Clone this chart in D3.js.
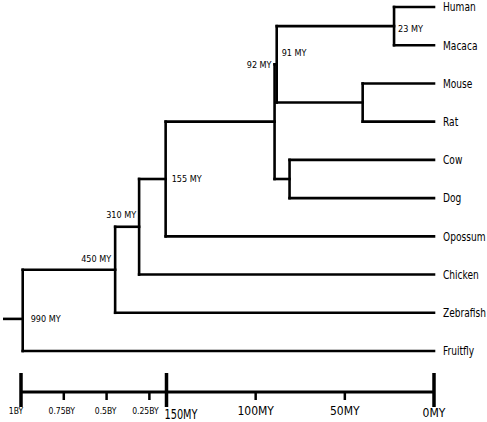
<!DOCTYPE html>
<html><head><meta charset="utf-8">
<script src="https://cdn.jsdelivr.net/npm/d3@7"></script>
<style>
body{margin:0;background:#fff}
svg{display:block}
text{font-family:"DejaVu Sans Condensed","DejaVu Sans",sans-serif;fill:#000}
</style>
</head><body>
<svg id="chart" width="487" height="422"></svg>
<script>
// ---- data ----
const leafNames = ["Human","Macaca","Mouse","Rat","Cow","Dog","Opossum","Chicken","Zebrafish","Fruitfly"];
const nodeIds     = ["n990","n450","n310","n155","n92","n91","n23","n40","n81",
                     "Human","Macaca","Mouse","Rat","Cow","Dog","Opossum","Chicken","Zebrafish","Fruitfly"];
const nodeParents = ["","n990","n450","n310","n155","n92","n91","n91","n92",
                     "n23","n23","n40","n40","n81","n81","n155","n310","n450","n990"];
// divergence time in million years, as placed on the time axis
const nodeAges    = [990,450,310,155,89.4,88.2,22.4,40,81, 0,0,0,0,0,0,0,0,0,0];
const nodeLabels  = ["990 MY","450 MY","310 MY","155 MY","92 MY","91 MY","23 MY","","",
                     "","","","","","","","","",""];
const rootStubAge = 1105;
const rootStubRow = 8.16;
const tickValues  = [1000,750,500,250,150,100,50,0];
const tickLabels  = ["1BY","0.75BY","0.5BY","0.25BY","150MY","100MY","50MY","0MY"];
const tickMajor   = [true,false,false,false,true,false,false,true];

// ---- scales ----
const x = d3.scaleLinear().domain([1000,150,0]).range([21,166.5,434]);
const y = d3.scaleLinear().domain([0,leafNames.length-1]).range([7,351]);

const svg = d3.select("#chart");
const rows = nodeIds.map((id,i)=>({id, parent:nodeParents[i], age:nodeAges[i], label:nodeLabels[i]}));
const root = d3.stratify().id(d=>d.id).parentId(d=>d.parent||null)(rows);

root.eachAfter(n=>{
  n.px = x(n.data.age);
  if(!n.children){ n.py = y(leafNames.indexOf(n.id)); }
  else { n.py = (n.children[0].py + n.children[n.children.length-1].py)/2; }
});

const g = svg.append("g").attr("stroke","#000").attr("stroke-width",2.6).attr("fill","none").attr("stroke-linecap","square");
// stub
g.append("line").attr("x1",x(rootStubAge)).attr("x2",root.px).attr("y1",y(rootStubRow)).attr("y2",y(rootStubRow)).attr("stroke-linecap","butt");
root.each(n=>{
  if(n.children){
    g.append("line").attr("x1",n.px).attr("x2",n.px)
      .attr("y1",n.children[0].py).attr("y2",n.children[n.children.length-1].py);
    n.children.forEach(c=>{
      g.append("line").attr("x1",n.px).attr("x2",c.px).attr("y1",c.py).attr("y2",c.py);
    });
  }
});

// leaf labels (condensed horizontally)
root.leaves().forEach(l=>{
  svg.append("text").attr("transform",`translate(${l.px+9},${l.py}) scale(0.84,1)`)
    .attr("dy","0.36em").attr("font-size",12).text(l.id);
});

// node labels
const labelPos = {
  n990:{ref:"stub", anchor:"start", dx:8,  dy:0},
  n450:{ref:"in",   anchor:"end",   dx:-4, dy:-11},
  n310:{ref:"in",   anchor:"end",   dx:-3, dy:-12},
  n155:{ref:"in",   anchor:"start", dx:6,  dy:0},
  n92: {ref:"top",  anchor:"end",   dx:-3, dy:0},
  n91: {ref:"in",   anchor:"start", dx:5,  dy:-12},
  n23: {ref:"in",   anchor:"start", dx:4,  dy:3}
};
root.each(n=>{
  if(!n.data.label) return;
  const p = labelPos[n.id];
  let yy = n.py;
  if(p.ref==="stub") yy = y(rootStubRow);
  if(p.ref==="top") yy = n.children[0].py;
  svg.append("text").attr("x",n.px+p.dx).attr("y",yy+p.dy).attr("dy","0.36em")
    .attr("text-anchor",p.anchor).attr("font-size",9).text(n.data.label);
});

// time axis
const axisY = 392;
const ax = svg.append("g");
ax.append("line").attr("x1",x(1000)).attr("x2",x(0)).attr("y1",axisY).attr("y2",axisY)
  .attr("stroke","#000").attr("stroke-width",3);
const tickStyle = {
  "1BY":    {size:8.5, anchor:"middle", dx:-5, y:414},
  "0.75BY": {size:8.5, anchor:"middle", dx:-2, y:414},
  "0.5BY":  {size:8.5, anchor:"middle", dx:-1, y:414},
  "0.25BY": {size:8.5, anchor:"middle", dx:-4, y:414},
  "150MY":  {size:14,  anchor:"start",  dx:-2, y:419, len:33},
  "100MY":  {size:12,  anchor:"middle", dx:0,  y:415},
  "50MY":   {size:12,  anchor:"middle", dx:0,  y:415},
  "0MY":    {size:12,  anchor:"middle", dx:0,  y:417}
};
tickValues.forEach((v,i)=>{
  const tx = x(v);
  if(tickMajor[i]){
    ax.append("line").attr("x1",tx).attr("x2",tx).attr("y1",373).attr("y2",407)
      .attr("stroke","#000").attr("stroke-width",3.5);
  } else {
    ax.append("line").attr("x1",tx).attr("x2",tx).attr("y1",axisY).attr("y2",400)
      .attr("stroke","#000").attr("stroke-width",2.5);
  }
  const s = tickStyle[tickLabels[i]];
  const t = ax.append("text").attr("x",tx+s.dx).attr("y",s.y).attr("text-anchor",s.anchor)
    .attr("font-size",s.size).text(tickLabels[i]);
  if(s.len) t.attr("textLength",s.len).attr("lengthAdjust","spacingAndGlyphs");
});
</script>
</body></html>
